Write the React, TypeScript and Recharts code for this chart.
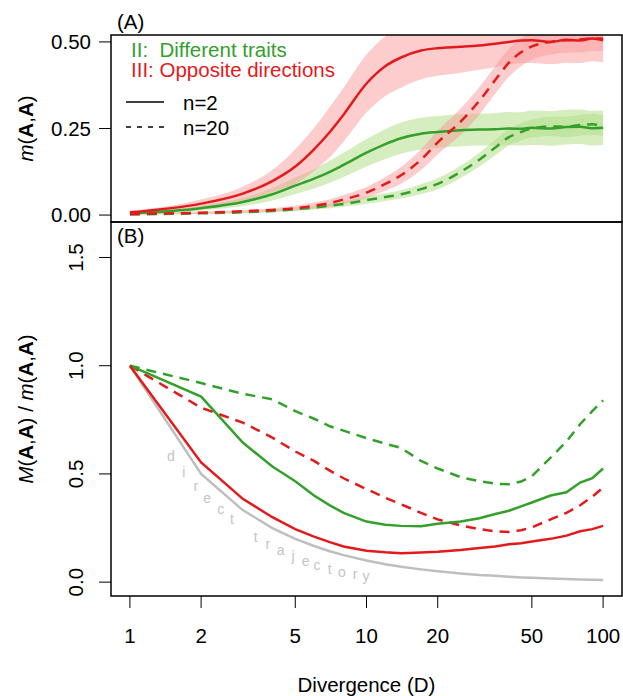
import { Area, ComposedChart, Line, ReferenceArea, Scatter, XAxis, YAxis } from "recharts";

const FONT = "'Liberation Sans', Arial, Helvetica, sans-serif";
const FS = 20.5;
const GREEN = "#33a02c";
const RED = "#e31a1c";
const GREEN_BAND = "#b2df8a";
const RED_BAND = "#fb9a99";

// divergence values (log axis)
const divergence = [1, 2, 3, 4, 5, 6, 7, 8, 10, 12, 14, 17, 20, 25, 30, 35, 40, 45, 50, 60, 70, 80, 90, 100];
const xTicks = [1, 2, 5, 10, 20, 50, 100];

// panel A: m(A,A), mean and half-width of the band
const redSolidA = [0.008, 0.033, 0.062, 0.098, 0.14, 0.19, 0.24, 0.29, 0.38, 0.43, 0.455, 0.475, 0.482, 0.486, 0.49, 0.495, 0.5, 0.504, 0.505, 0.5, 0.506, 0.504, 0.51, 0.505];
const redSolidSpread = [0.004, 0.012, 0.02, 0.032, 0.05, 0.062, 0.072, 0.078, 0.084, 0.086, 0.087, 0.083, 0.08, 0.075, 0.07, 0.068, 0.065, 0.065, 0.066, 0.064, 0.066, 0.065, 0.066, 0.064];
const redDashedA = [0.003, 0.007, 0.011, 0.015, 0.02, 0.027, 0.035, 0.045, 0.065, 0.09, 0.115, 0.16, 0.21, 0.27, 0.33, 0.39, 0.44, 0.47, 0.487, 0.5, 0.505, 0.507, 0.51, 0.51];
const redDashedSpread = [0.002, 0.003, 0.004, 0.005, 0.007, 0.009, 0.011, 0.013, 0.016, 0.02, 0.024, 0.03, 0.034, 0.038, 0.04, 0.04, 0.04, 0.04, 0.038, 0.036, 0.036, 0.037, 0.036, 0.036];
const greenSolidA = [0.005, 0.02, 0.038, 0.06, 0.085, 0.105, 0.125, 0.145, 0.18, 0.205, 0.222, 0.235, 0.24, 0.245, 0.247, 0.248, 0.25, 0.249, 0.252, 0.25, 0.254, 0.255, 0.251, 0.252];
const greenSolidSpread = [0.002, 0.007, 0.012, 0.018, 0.024, 0.028, 0.032, 0.035, 0.04, 0.043, 0.045, 0.046, 0.046, 0.046, 0.046, 0.047, 0.048, 0.048, 0.05, 0.05, 0.05, 0.05, 0.05, 0.05];
const greenDashedA = [0.002, 0.005, 0.008, 0.012, 0.017, 0.022, 0.027, 0.032, 0.043, 0.052, 0.06, 0.075, 0.09, 0.125, 0.16, 0.195, 0.225, 0.24, 0.25, 0.256, 0.255, 0.26, 0.262, 0.258];
const greenDashedSpread = [0.001, 0.002, 0.003, 0.004, 0.005, 0.006, 0.007, 0.008, 0.01, 0.011, 0.012, 0.014, 0.016, 0.018, 0.02, 0.022, 0.024, 0.025, 0.026, 0.028, 0.03, 0.03, 0.03, 0.03];

// panel B: M(A,A) / m(A,A)
const redSolidB = [1.0, 0.553, 0.385, 0.3, 0.245, 0.21, 0.185, 0.165, 0.145, 0.138, 0.134, 0.137, 0.14, 0.148, 0.158, 0.165, 0.175, 0.18, 0.188, 0.2, 0.215, 0.235, 0.245, 0.26];
const greenSolidB = [1.0, 0.857, 0.645, 0.534, 0.466, 0.4, 0.355, 0.32, 0.28, 0.265, 0.26, 0.258, 0.27, 0.28, 0.295, 0.315, 0.33, 0.35, 0.368, 0.4, 0.415, 0.46, 0.48, 0.525];
const greenDashedB = [1.0, 0.92, 0.87, 0.845, 0.79, 0.755, 0.72, 0.7, 0.665, 0.64, 0.62, 0.56, 0.525, 0.485, 0.466, 0.455, 0.452, 0.465, 0.49, 0.575, 0.65, 0.73, 0.79, 0.84];
const redDashedB = [1.0, 0.806, 0.737, 0.668, 0.604, 0.56, 0.515, 0.48, 0.43, 0.39, 0.36, 0.32, 0.29, 0.262, 0.245, 0.235, 0.232, 0.24, 0.253, 0.29, 0.32, 0.355, 0.395, 0.437];
const directB = [1.0, 0.5, 0.333, 0.25, 0.2, 0.167, 0.143, 0.125, 0.1, 0.083, 0.071, 0.059, 0.05, 0.04, 0.033, 0.029, 0.025, 0.022, 0.02, 0.017, 0.014, 0.0125, 0.011, 0.01];

// "direct trajectory" letters placed along the grey curve
const letterChars = ["d", "i", "r", "e", "c", "t", "t", "r", "a", "j", "e", "c", "t", "o", "r", "y"];
const letterD = [1.49, 1.69, 1.9, 2.12, 2.42, 2.7, 3.4, 3.83, 4.34, 4.89, 5.53, 6.18, 6.99, 7.88, 8.94, 9.95];
const letterV = [0.582, 0.507, 0.444, 0.387, 0.336, 0.29, 0.207, 0.175, 0.149, 0.121, 0.098, 0.078, 0.06, 0.047, 0.037, 0.028];

const dataA = divergence.map((D, i) => ({
  D,
  rs: redSolidA[i],
  rd: redDashedA[i],
  gs: greenSolidA[i],
  gd: greenDashedA[i],
  rsBand: [redSolidA[i] - redSolidSpread[i], redSolidA[i] + redSolidSpread[i]],
  rdBand: [redDashedA[i] - redDashedSpread[i], redDashedA[i] + redDashedSpread[i]],
  gsBand: [greenSolidA[i] - greenSolidSpread[i], greenSolidA[i] + greenSolidSpread[i]],
  gdBand: [greenDashedA[i] - greenDashedSpread[i], greenDashedA[i] + greenDashedSpread[i]],
}));

const dataB = divergence.map((D, i) => ({
  D,
  rs: redSolidB[i],
  rd: redDashedB[i],
  gs: greenSolidB[i],
  gd: greenDashedB[i],
  direct: directB[i],
}));

const letters = letterChars.map((ch, i) => ({ D: letterD[i], v: letterV[i], ch }));

const X_DOMAIN = [0.832, 120.2];
const A_DOMAIN = [-0.02, 0.52];
const B_DOMAIN = [-0.064, 1.664];
const DASH = "10 7";

const RotTick = (p: any) => (
  <text transform={`translate(${p.x},${p.y}) rotate(-90)`} textAnchor="middle" fontSize={FS} fontFamily={FONT} fill="#000">
    {Number(p.payload.value).toFixed(1)}
  </text>
);

const LetterShape = (p: any) => (
  <text x={p.cx} y={p.cy} textAnchor="middle" dominantBaseline="central" fontSize={14} fontFamily={FONT} fill="#c4c4c4">
    {p.payload.ch}
  </text>
);

export default function App() {
  return (
    <div style={{ position: "absolute", left: 0, top: 0, width: 623, height: 696, background: "#fff", fontFamily: FONT }}>
      <div style={{ position: "absolute", left: 0, top: 0 }}>
        <ComposedChart width={623} height={230} data={dataA} margin={{ top: 35, right: 1, bottom: 8, left: 0 }}>
          <XAxis dataKey="D" type="number" scale="log" domain={X_DOMAIN} allowDataOverflow hide ticks={xTicks} />
          <YAxis
            type="number"
            width={111}
            domain={A_DOMAIN}
            allowDataOverflow
            ticks={[0, 0.25, 0.5]}
            tickFormatter={(v: number) => v.toFixed(2)}
            tick={{ fontSize: FS, fill: "#000", fontFamily: FONT }}
            tickSize={12}
            tickMargin={8}
            axisLine={false}
            tickLine={{ stroke: "#000" }}
          />
          <Area dataKey="gsBand" type="monotone" stroke="none" fill={GREEN_BAND} fillOpacity={0.55} isAnimationActive={false} />
          <Area dataKey="gdBand" type="monotone" stroke="none" fill={GREEN_BAND} fillOpacity={0.55} isAnimationActive={false} />
          <Area dataKey="rsBand" type="monotone" stroke="none" fill={RED_BAND} fillOpacity={0.5} isAnimationActive={false} />
          <Area dataKey="rdBand" type="monotone" stroke="none" fill={RED_BAND} fillOpacity={0.5} isAnimationActive={false} />
          <Line dataKey="gs" type="monotone" stroke={GREEN} strokeWidth={2.5} dot={false} isAnimationActive={false} />
          <Line dataKey="gd" type="monotone" stroke={GREEN} strokeWidth={2.5} strokeDasharray={DASH} dot={false} isAnimationActive={false} />
          <Line dataKey="rs" type="monotone" stroke={RED} strokeWidth={2.5} dot={false} isAnimationActive={false} />
          <Line dataKey="rd" type="monotone" stroke={RED} strokeWidth={2.5} strokeDasharray={DASH} dot={false} isAnimationActive={false} />
          <ReferenceArea x1={X_DOMAIN[0]} x2={X_DOMAIN[1]} y1={A_DOMAIN[0]} y2={A_DOMAIN[1]} fill="none" stroke="#000" strokeWidth={1.5} ifOverflow="visible" />
          <text x={117} y={29} fontSize={FS} fontFamily={FONT} fill="#000">(A)</text>
          <text x={131} y={57} fontSize={FS} fontFamily={FONT} fill={GREEN} style={{ whiteSpace: "pre" }}>II:  Different traits</text>
          <text x={131} y={77} fontSize={FS} fontFamily={FONT} fill={RED} style={{ whiteSpace: "pre" }}>III: Opposite directions</text>
          <line x1={126} x2={164} y1={102} y2={102} stroke="#000" strokeWidth={1.5} />
          <line x1={126} x2={164} y1={127} y2={127} stroke="#000" strokeWidth={1.5} strokeDasharray="5 6" />
          <text x={183} y={110} fontSize={FS} fontFamily={FONT} fill="#000">n=2</text>
          <text x={183} y={135} fontSize={FS} fontFamily={FONT} fill="#000">n=20</text>
          <text transform="translate(33,128.5) rotate(-90)" textAnchor="middle" fontSize={FS} fontFamily={FONT} fill="#000">
            <tspan fontStyle="italic">m</tspan>(<tspan fontWeight="bold">A</tspan>,<tspan fontWeight="bold">A</tspan>)
          </text>
        </ComposedChart>
      </div>
      <div style={{ position: "absolute", left: 0, top: 212 }}>
        <ComposedChart width={623} height={484} data={dataB} margin={{ top: 10, right: 1, bottom: 0, left: 0 }}>
          <XAxis
            dataKey="D"
            type="number"
            scale="log"
            domain={X_DOMAIN}
            allowDataOverflow
            ticks={xTicks}
            height={100}
            tick={{ fontSize: FS, fill: "#000", fontFamily: FONT }}
            tickSize={12}
            tickMargin={20}
            axisLine={false}
            tickLine={{ stroke: "#000" }}
          />
          <YAxis
            type="number"
            width={111}
            domain={B_DOMAIN}
            allowDataOverflow
            ticks={[0, 0.5, 1, 1.5]}
            tick={<RotTick />}
            tickSize={12}
            tickMargin={16}
            axisLine={false}
            tickLine={{ stroke: "#000" }}
          />
          <Line dataKey="direct" stroke="#bebebe" strokeWidth={2.5} dot={false} isAnimationActive={false} />
          <Line dataKey="gd" stroke={GREEN} strokeWidth={2.5} strokeDasharray={DASH} dot={false} isAnimationActive={false} />
          <Line dataKey="rd" stroke={RED} strokeWidth={2.5} strokeDasharray={DASH} dot={false} isAnimationActive={false} />
          <Line dataKey="gs" stroke={GREEN} strokeWidth={2.5} dot={false} isAnimationActive={false} />
          <Line dataKey="rs" stroke={RED} strokeWidth={2.5} dot={false} isAnimationActive={false} />
          <Scatter data={letters} dataKey="v" shape={<LetterShape />} isAnimationActive={false} />
          <ReferenceArea x1={X_DOMAIN[0]} x2={X_DOMAIN[1]} y1={B_DOMAIN[0]} y2={B_DOMAIN[1]} fill="none" stroke="#000" strokeWidth={1.5} ifOverflow="visible" />
          <text x={117} y={31} fontSize={FS} fontFamily={FONT} fill="#000">(B)</text>
          <text transform="translate(33,197) rotate(-90)" textAnchor="middle" fontSize={FS} fontFamily={FONT} fill="#000">
            <tspan fontStyle="italic">M</tspan>(<tspan fontWeight="bold">A</tspan>,<tspan fontWeight="bold">A</tspan>) / <tspan fontStyle="italic">m</tspan>(<tspan fontWeight="bold">A</tspan>,<tspan fontWeight="bold">A</tspan>)
          </text>
          <text x={366.5} y={480} textAnchor="middle" fontSize={FS} fontFamily={FONT} fill="#000">Divergence (D)</text>
        </ComposedChart>
      </div>
    </div>
  );
}
